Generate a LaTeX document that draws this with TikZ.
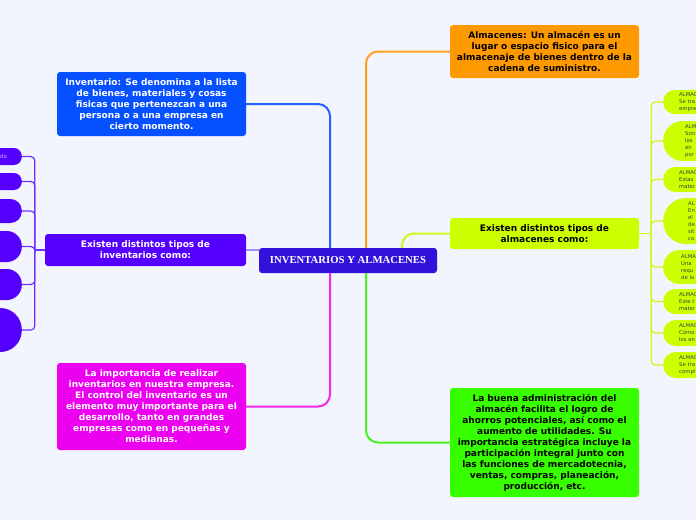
\documentclass[tikz,border=0pt]{standalone}
\usepackage{fontspec}
\newfontfamily\dv{DejaVu Sans}
\newfontfamily\lser{Liberation Serif}
\definecolor{cBg}{RGB}{243,245,254}
\definecolor{cCtr}{RGB}{51,17,221}
\definecolor{cBlue}{RGB}{5,80,255}
\definecolor{cPur}{RGB}{85,0,255}
\definecolor{cMag}{RGB}{235,0,240}
\definecolor{cOra}{RGB}{255,153,0}
\definecolor{cYel}{RGB}{204,255,0}
\definecolor{cGrn}{RGB}{55,255,0}
\definecolor{lBlue}{RGB}{40,95,255}
\definecolor{lPur}{RGB}{165,140,255}
\definecolor{lMag}{RGB}{240,40,240}
\definecolor{lOra}{RGB}{255,160,30}
\definecolor{lYel}{RGB}{210,245,30}
\definecolor{lGrn}{RGB}{70,245,30}
\definecolor{lBr}{RGB}{110,50,255}
\definecolor{lTxt}{RGB}{205,190,255}
\tikzset{
  mainbox/.style={rounded corners=3pt, align=center, inner sep=0pt,
    font=\dv\bfseries\fontsize{9}{11}\selectfont},
  conn/.style={line width=2pt, rounded corners=12pt},
  rsmall/.style={fill=cYel, anchor=west, align=left, text width=40pt,
    inner ysep=0pt, text=black!75, font=\dv\fontsize{5.3}{7}\selectfont},
  lsmall/.style={fill=cPur, anchor=east, align=right, text width=40pt,
    inner ysep=0pt, inner xsep=15pt, text=lTxt, font=\dv\fontsize{5.3}{7}\selectfont},
  rbr/.style={draw=lYel, line width=1.3pt, rounded corners=4pt},
  lbr/.style={draw=lBr, line width=1.2pt, rounded corners=4pt}
}
\begin{document}
\begin{tikzpicture}[x=1pt,y=-1pt]
\useasboundingbox (0,0) rectangle (696,520);
\fill[cBg] (0,0) rectangle (696,520);
\clip (0,0) rectangle (696,520);

% main nodes
\node[rounded corners=3pt, fill=cCtr, text=white, minimum width=178pt, minimum height=25pt, inner sep=0pt,
  font=\lser\bfseries\fontsize{10.7}{12}\selectfont] (ctr) at (348,260.5) {INVENTARIOS Y ALMACENES};

\node[mainbox, fill=cBlue, text=white, minimum width=189pt, minimum height=64pt] (inv) at (151.5,104)
  {Inventario: Se denomina a la lista\\de bienes, materiales y cosas\\fisicas que pertenezcan a una\\persona o a una empresa en\\cierto momento.};

\node[mainbox, fill=cPur, text=white, minimum width=201pt, minimum height=32pt] (pur) at (145.5,250)
  {Existen distintos tipos de\\inventarios como:};

\node[mainbox, fill=cMag, text=white, minimum width=189pt, minimum height=87pt] (mag) at (151.5,406.5)
  {La importancia de realizar\\inventarios en nuestra empresa.\\El control del inventario es un\\elemento muy importante para el\\desarrollo, tanto en grandes\\empresas como en pequeñas y\\medianas.};

\node[mainbox, fill=cOra, text=black, minimum width=189pt, minimum height=53pt] (ora) at (544.5,51.5)
  {Almacenes: Un almacén es un\\lugar o espacio fisico para el\\almacenaje de bienes dentro de la\\cadena de suministro.};

\node[mainbox, fill=cYel, text=black, minimum width=189pt, minimum height=31pt] (alm) at (544.5,233.5)
  {Existen distintos tipos de\\almacenes como:};

\node[mainbox, fill=cGrn, text=black, minimum width=189pt, minimum height=109pt] (grn) at (544.5,442.5)
  {La buena administración del\\almacén facilita el logro de\\ahorros potenciales, así como el\\aumento de utilidades. Su\\importancia estratégica incluye la\\participación integral junto con\\las funciones de mercadotecnia,\\ventas, compras, planeación,\\producción, etc.};

% main connectors
\draw[conn, draw=lBlue] (inv.east) -| ([xshift=-18pt]ctr.north);
\draw[conn, draw=lOra] (ora.west) -| ([xshift=18pt]ctr.north);
\draw[conn, draw=lYel] (alm.west) -| ([xshift=54pt]ctr.north);
\draw[conn, draw=lMag] (mag.east) -| ([xshift=-18pt]ctr.south);
\draw[conn, draw=lGrn] (grn.west) -| ([xshift=18pt]ctr.south);
\draw[line width=2pt, draw=lPur] (pur.east) -- (pur.east -| ctr.west);

% right small nodes
\node[rsmall, minimum height=24pt, rounded corners=11.5pt, inner xsep=16pt] (r1) at (663,102) {ALMAC\\Se tra\\empre};
\node[rsmall, minimum height=40pt, rounded corners=19.5pt, inner xsep=22pt] (r2) at (663,141) {ALM\\Son\\los\\en\\por};
\node[rsmall, minimum height=25pt, rounded corners=12pt, inner xsep=16pt] (r3) at (663,179.5) {ALMAC\\Estas\\mater};
\node[rsmall, minimum height=46pt, rounded corners=22.5pt, inner xsep=25pt] (r4) at (663,221) {AL\\En\\el\\de\\sit\\co};
\node[rsmall, minimum height=34pt, rounded corners=16.5pt, inner xsep=18pt] (r5) at (663,267) {ALMA\\Una\\requ\\de lo};
\node[rsmall, minimum height=25pt, rounded corners=12pt, inner xsep=16pt] (r6) at (663,301.5) {ALMAC\\Este t\\mater};
\node[rsmall, minimum height=26pt, rounded corners=12.5pt, inner xsep=16pt] (r7) at (663,333) {ALMAC\\Cómo\\los en};
\node[rsmall, minimum height=26pt, rounded corners=12.5pt, inner xsep=16pt] (r8) at (663,365) {ALMAC\\Se tra\\compl};

\draw[rbr] (alm.east) -- ([xshift=12pt]alm.east) coordinate (rj);
\foreach \n in {r1,r2,r3,r4,r5,r6,r7,r8} \draw[rbr] (rj) |- (\n.west);

% left small nodes
\node[lsmall, minimum height=17pt, rounded corners=8pt] (l1) at (22,156.5) {do};
\node[lsmall, minimum height=17pt, rounded corners=8pt] (l2) at (22,181.5) {};
\node[lsmall, minimum height=24pt, rounded corners=11.5pt] (l3) at (22,211) {};
\node[lsmall, minimum height=31pt, rounded corners=15pt] (l4) at (22,246.5) {};
\node[lsmall, minimum height=31pt, rounded corners=15pt] (l5) at (22,284.5) {};
\node[lsmall, minimum height=44pt, rounded corners=21.5pt] (l6) at (22,330) {};

\draw[lbr] (pur.west) -- ([xshift=-10pt]pur.west) coordinate (lj);
\foreach \n in {l1,l2,l3,l4,l5,l6} \draw[lbr] (lj) |- (\n.east);
\end{tikzpicture}
\end{document}
